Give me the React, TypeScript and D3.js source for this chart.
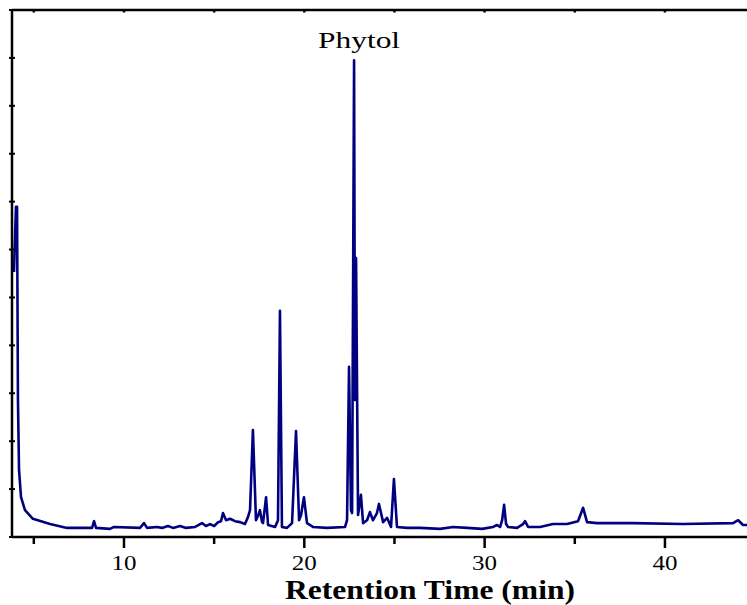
import React from "react";
import * as d3 from "d3";

// retention time (min) and detector response (arbitrary units)
const times = [
  3.9, 4.01, 4.07, 4.12, 4.18, 4.29, 4.51, 4.95, 5.9, 6.84, 8.23, 8.34, 8.45, 9.22, 9.45,
  10.89, 11.11, 11.28, 11.83, 12.11, 12.44, 12.72, 13.11, 13.44, 13.94, 14.33, 14.55, 14.77,
  15.0, 15.22, 15.38, 15.49, 15.66, 15.88, 16.16, 16.44, 16.71, 16.88, 16.99, 17.15, 17.32,
  17.43, 17.54, 17.66, 17.71, 17.88, 17.99, 18.38, 18.54, 18.65, 18.76, 19.04, 19.32, 19.54,
  19.71, 19.82, 19.98, 20.15, 20.48, 21.26, 22.26, 22.37, 22.48, 22.59, 22.65, 22.76, 22.81,
  22.87, 22.98, 23.14, 23.26, 23.48, 23.64, 23.81, 24.03, 24.14, 24.37, 24.59, 24.81, 24.97,
  25.14, 25.7, 26.42, 27.53, 28.25, 29.02, 29.86, 30.47, 30.69, 30.86, 30.97, 31.08, 31.19,
  31.3, 31.8, 32.13, 32.24, 32.41, 33.07, 33.79, 34.57, 35.18, 35.46, 35.68, 36.24, 38.23,
  41.0, 43.78, 44.06, 44.33, 44.72,
];
const response = [
  55.3, 68.9, 68.9, 28.6, 14.0, 8.3, 5.6, 3.8, 2.7, 1.9, 1.9, 3.3, 1.9, 1.7, 2.1,
  1.9, 2.9, 1.9, 2.1, 1.9, 2.3, 1.9, 2.3, 1.9, 2.1, 2.9, 2.3, 2.7,
  2.3, 3.1, 3.3, 5.0, 3.5, 3.8, 3.3, 3.1, 2.7, 4.2, 5.6, 22.3, 3.5,
  4.4, 5.6, 3.1, 2.9, 8.3, 2.5, 2.1, 3.5, 47.2, 2.1, 1.9, 2.9, 22.1,
  3.5, 4.6, 8.3, 2.9, 2.1, 1.9, 2.1, 3.5, 35.5, 5.6, 5.0, 99.5, 28.6,
  58.2, 4.6, 8.8, 2.9, 3.5, 5.2, 3.5, 5.0, 6.9, 3.1, 4.0, 2.1, 12.1,
  2.1, 1.9, 1.9, 1.7, 2.1, 1.9, 1.7, 2.1, 2.5, 2.1, 3.5, 6.7, 2.7,
  2.1, 1.9, 2.7, 3.3, 2.1, 2.1, 2.7, 2.7, 3.3, 6.1, 3.1, 2.9, 2.9,
  2.7, 2.9, 3.5, 2.5, 2.5,
];
const majorTicks = [10, 20, 30, 40];
const minorTicks = [5, 15, 25, 35];
const yTicks = d3.range(0, 111, 10);

const peakLabel = { text: "Phytol", time: 22.76, value: 99.5 };

const W = 747;
const H = 605;
const left = 12;
const top = 10;
const bottom = 537;

export default function App() {
  const x = d3.scaleLinear().domain([3.79, 44.55]).range([left, W]);
  const y = d3.scaleLinear().domain([0, 110]).range([bottom, top]);

  const points: [number, number][] = times.map((t, i) => [t, response[i]]);
  const line = d3
    .line<[number, number]>()
    .x((d) => x(d[0]))
    .y((d) => y(d[1]));

  const serif = "'Liberation Serif', 'Times New Roman', serif";

  return (
    <svg
      width={W}
      height={H}
      style={{ position: "fixed", left: 0, top: 0, background: "#fff" }}
    >
      {/* trace */}
      <path
        d={line(points) || ""}
        fill="none"
        stroke="#000080"
        strokeWidth={2.6}
        strokeLinejoin="round"
      />

      {/* frame */}
      <line x1={left} x2={W} y1={top} y2={top} stroke="#000" strokeWidth={2.5} />
      <line x1={left} x2={left} y1={top} y2={bottom} stroke="#000" strokeWidth={2.5} />
      <line x1={left} x2={W} y1={bottom} y2={bottom} stroke="#000" strokeWidth={2.5} />

      {/* left ticks */}
      {yTicks.map((v) => (
        <line key={"y" + v} x1={left - 3} x2={left + 3} y1={y(v)} y2={y(v)} stroke="#000" strokeWidth={2} />
      ))}

      {/* top ticks */}
      {[...majorTicks, ...minorTicks].map((t) => (
        <line key={"t" + t} x1={x(t)} x2={x(t)} y1={top} y2={top + 2.5} stroke="#000" strokeWidth={2.5} />
      ))}

      {/* bottom ticks */}
      {majorTicks.map((t) => (
        <g key={"M" + t}>
          <line x1={x(t)} x2={x(t)} y1={bottom} y2={bottom + 11} stroke="#000" strokeWidth={2.5} />
          <text
            x={x(t)}
            y={570}
            textAnchor="middle"
            fontFamily={serif}
            fontSize={20}
            textLength={25}
            lengthAdjust="spacingAndGlyphs"
            fill="#000"
          >
            {t}
          </text>
        </g>
      ))}
      {minorTicks.map((t) => (
        <line key={"m" + t} x1={x(t)} x2={x(t)} y1={bottom} y2={bottom + 7} stroke="#000" strokeWidth={2.5} />
      ))}

      {/* labels */}
      <text
        x={x(peakLabel.time) + 5}
        y={y(peakLabel.value) - 12}
        textAnchor="middle"
        fontFamily={serif}
        fontSize={24}
        textLength={82}
        lengthAdjust="spacingAndGlyphs"
        fill="#000"
      >
        {peakLabel.text}
      </text>
      <text
        x={430}
        y={599}
        textAnchor="middle"
        fontFamily={serif}
        fontWeight="bold"
        fontSize={27}
        textLength={290}
        lengthAdjust="spacingAndGlyphs"
        fill="#000"
      >
        Retention Time (min)
      </text>
    </svg>
  );
}
